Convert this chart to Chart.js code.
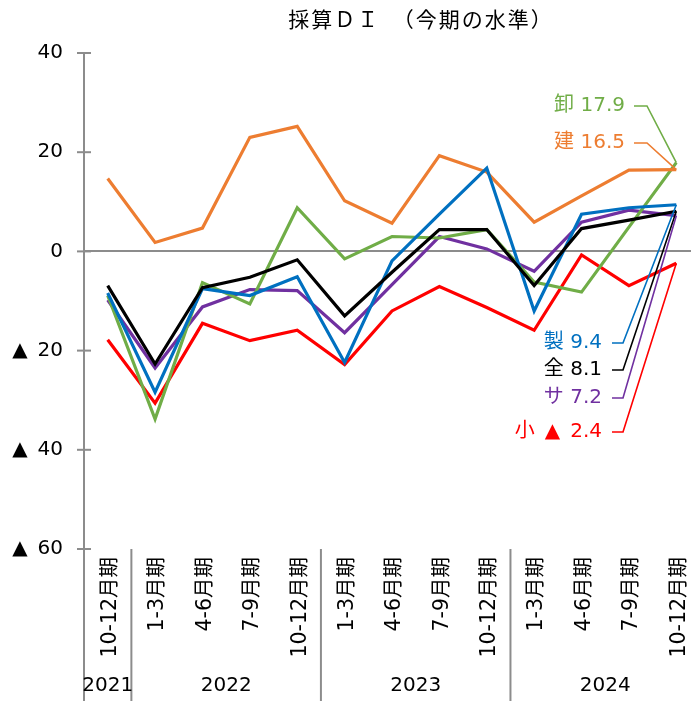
<!DOCTYPE html>
<html><head><meta charset="utf-8">
<script src="https://cdn.jsdelivr.net/npm/chart.js@4"></script>
<style>html,body{margin:0;padding:0;overflow:hidden;background:#fff}</style>
</head><body>
<canvas id="c" width="700" height="701"></canvas>
<script>
// ---------- data ----------
const categories = ["10-12月期","1-3月期","4-6月期","7-9月期","10-12月期","1-3月期","4-6月期","7-9月期","10-12月期","1-3月期","4-6月期","7-9月期","10-12月期"];
const yearLabels = ["2021","2022","2023","2024"];
const yearStart  = [0,1,5,9];
const yearEnd    = [0,4,8,12];
const yTickValues = [40,20,0,-20,-40,-60];
const titleText = "採算ＤＩ　（今期の水準）";

const seriesNames = ["全","製","建","卸","小","サ"];
const zen    = [-6.9,-22.7,-7.3,-5.2,-1.7,-13.0,-4.2, 4.4, 4.4, -6.9, 4.6, 6.3, 8.1];
const sei    = [-8.4,-28.4,-7.5,-8.9,-5.1,-22.4,-1.9, 7.5,16.8,-12.0, 7.5, 8.8, 9.4];
const ken    = [14.7,  1.8, 4.7,23.0,25.2, 10.2, 5.7,19.3,16.0,  5.9,11.2,16.4,16.5];
const oroshi = [-8.9,-33.8,-6.3,-10.6,8.8, -1.5, 3.0, 2.7, 4.4, -6.2,-8.2, 4.9,17.9];
const sho    = [-17.8,-30.6,-14.5,-18.0,-15.9,-22.8,-12.0,-7.1,-11.3,-15.9,-0.7,-6.9,-2.4];
const sa     = [-9.8,-23.5,-11.2,-7.7,-7.9,-16.4,-6.7, 3.0, 0.5, -4.0, 5.9, 8.3, 7.2];

// ---------- styles ----------
const FONT = '"DejaVu Sans", "Noto Sans CJK JP", sans-serif';
const AXIS = '#8c8c8c';
const COLORS = {"全":"#000000","製":"#0070C0","建":"#ED7D31","卸":"#70AD47","小":"#FF0000","サ":"#7030A0"};
const seriesData = {"全":zen,"製":sei,"建":ken,"卸":oroshi,"小":sho,"サ":sa};
const drawOrder = ["全","製","建","卸","サ","小"];
// end-label layout (pixels): right edge of text, text centre y, leader start/end x
const endLabelLayout = {
  "卸": {right:625, y:106, lx1:634, lx2:647},
  "建": {right:625, y:143, lx1:634, lx2:647},
  "製": {right:602, y:343, lx1:612, lx2:623},
  "全": {right:602, y:370, lx1:612, lx2:623},
  "サ": {right:602, y:398, lx1:612, lx2:623},
  "小": {right:602, y:432, lx1:612, lx2:623}
};

function fmtVal(v){ return v < 0 ? '▲\u2002' + Math.abs(v).toFixed(1) : v.toFixed(1); }
function fmtTick(v){ return v < 0 ? '▲\u2002' + Math.abs(v) : String(v); }

const extras = {
  id: 'extras',
  afterDraw(chart){
    const {ctx, scales:{x, y}, chartArea} = chart;
    const H = chart.height;
    ctx.save();
    ctx.strokeStyle = AXIS; ctx.lineWidth = 2;
    // y tick marks crossing the axis
    yTickValues.forEach(v => {
      const py = y.getPixelForValue(v);
      ctx.beginPath(); ctx.moveTo(chartArea.left - 7, py); ctx.lineTo(chartArea.left + 7, py); ctx.stroke();
    });
    // axis extension below plot + year separators
    const seps = [chartArea.left];
    for (let g = 0; g < yearEnd.length - 1; g++) {
      seps.push((x.getPixelForValue(yearEnd[g]) + x.getPixelForValue(yearStart[g+1])) / 2);
    }
    seps.forEach(px => {
      ctx.beginPath(); ctx.moveTo(px, chartArea.bottom); ctx.lineTo(px, H); ctx.stroke();
    });
    // year labels
    ctx.fillStyle = '#000';
    ctx.font = '20px ' + FONT;
    ctx.textAlign = 'center'; ctx.textBaseline = 'middle';
    yearLabels.forEach((lab, g) => {
      const cx = (x.getPixelForValue(yearStart[g]) + x.getPixelForValue(yearEnd[g])) / 2;
      ctx.fillText(lab, cx, 686);
    });
    // title
    ctx.font = '21px "Noto Sans CJK JP", sans-serif';
    try { ctx.letterSpacing = '2px'; } catch (e) {}
    ctx.fillText(titleText, 421, 19);
    try { ctx.letterSpacing = '0px'; } catch (e) {}
    // end labels with leader lines
    ctx.font = '20px ' + FONT;
    ctx.textAlign = 'right';
    seriesNames.forEach(name => {
      const d = seriesData[name];
      const L = endLabelLayout[name];
      const last = d.length - 1;
      const px = x.getPixelForValue(last), py = y.getPixelForValue(d[last]);
      ctx.fillStyle = COLORS[name];
      ctx.fillText(name + (d[last] < 0 ? '\u2002' : ' ') + fmtVal(d[last]), L.right, L.y);
      ctx.strokeStyle = COLORS[name]; ctx.lineWidth = 1.6;
      ctx.beginPath(); ctx.moveTo(L.lx1, L.y); ctx.lineTo(L.lx2, L.y); ctx.lineTo(px, py); ctx.stroke();
    });
    ctx.restore();
  }
};

new Chart(document.getElementById('c'), {
  type: 'line',
  data: {
    labels: categories,
    datasets: drawOrder.map(name => ({
      label: name,
      data: seriesData[name],
      borderColor: COLORS[name],
      backgroundColor: COLORS[name],
      borderWidth: 3.2,
      pointRadius: 0,
      tension: 0,
      fill: false
    }))
  },
  options: {
    responsive: false,
    animation: false,
    layout: { padding: { top: 53, right: 0, left: 0, bottom: 0 } },
    plugins: { legend: { display: false }, tooltip: { enabled: false }, title: { display: false } },
    scales: {
      x: {
        type: 'category',
        offset: true,
        grid: { display: false, drawTicks: false },
        border: { display: false },
        ticks: {
          autoSkip: false, minRotation: 90, maxRotation: 90, padding: 8, labelOffset: 3,
          color: '#000', font: { size: 20.5, family: FONT }
        },
        afterFit(s){ s.height = 152; s.paddingLeft = 0; s.paddingRight = 0; }
      },
      y: {
        min: -60, max: 40,
        grid: {
          drawTicks: false,
          color: c => (c.tick && c.tick.value === 0) ? AXIS : 'rgba(0,0,0,0)',
          lineWidth: 2
        },
        border: { display: true, color: AXIS, width: 2 },
        ticks: {
          stepSize: 20, padding: 21, color: '#000',
          font: { size: 20, family: FONT },
          callback: v => fmtTick(v)
        },
        afterFit(s){ s.width = 84; s.paddingTop = 0; s.paddingBottom = 0; }
      }
    }
  },
  plugins: [extras]
});
</script>
</body></html>
